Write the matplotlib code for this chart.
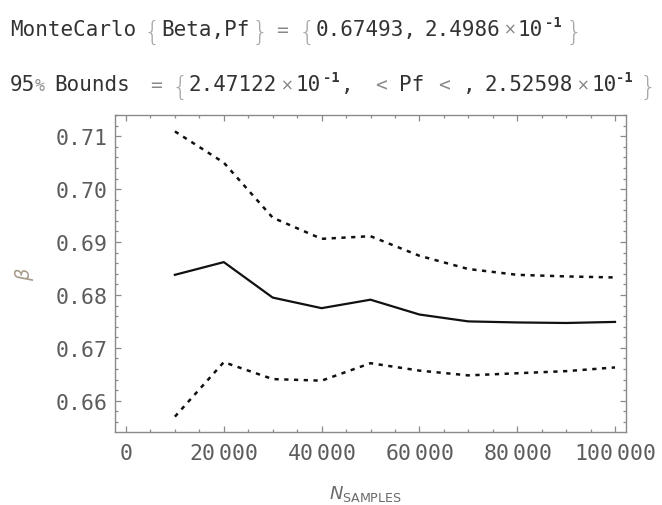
#!/usr/bin/env python3
'''
Monte Carlo convergence of beta with 95% bounds
'''
import numpy as np
import matplotlib
matplotlib.use('Agg')
import matplotlib.pyplot as plt
from matplotlib.ticker import MultipleLocator, FuncFormatter

n_samples = [10000, 20000, 30000, 40000, 50000, 60000, 70000, 80000, 90000, 100000]
beta_mean = [0.6838, 0.6862, 0.6795, 0.6775, 0.6791, 0.6763, 0.6750, 0.6748, 0.6747, 0.6749]
beta_upper = [0.7109, 0.7050, 0.6946, 0.6906, 0.6911, 0.6874, 0.6849, 0.6838, 0.6835, 0.6833]
beta_lower = [0.6570, 0.6673, 0.6641, 0.6638, 0.6671, 0.6657, 0.6648, 0.6652, 0.6656, 0.6663]

# header pieces: (text, kind, left x in pixels)
line1 = [('MonteCarlo', 'txt', 10), ('{', 'brace', 144), ('Beta,Pf', 'txt', 161),
         ('}', 'brace', 252), ('=', 'op', 276), ('{', 'brace', 299),
         ('0.67493,', 'txt', 316), ('2.4986', 'txt', 424), ('\u00d7', 'times', 504),
         ('10', 'txt', 517), ('-1', 'sup', 545), ('}', 'brace', 566)]
line2 = [('95', 'txt', 10), ('%', 'pct', 35), ('Bounds', 'txt', 54), ('=', 'op', 150),
         ('{', 'brace', 172), ('2.47122', 'txt', 189), ('\u00d7', 'times', 281),
         ('10', 'txt', 296), ('-1', 'sup', 323), (',', 'txt', 341),
         ('<', 'op', 375), ('Pf', 'txt', 399), ('<', 'op', 438), (',', 'txt', 463),
         ('2.52598', 'txt', 484), ('\u00d7', 'times', 577), ('10', 'txt', 591),
         ('-1', 'sup', 616), ('}', 'brace', 640)]

text_col = '#333333'
axis_col = '#8a8a8a'
label_col = '#5c5c5c'
mono = 'DejaVu Sans Mono'

fig = plt.figure(figsize=(6.62, 5.06), dpi=100)
ax = fig.add_axes([115/662, 1 - 433/506, 511/662, 317/506])

ax.plot(n_samples, beta_upper, color='#111111', lw=1.8, linestyle=(0, (1.7, 2.2)))
ax.plot(n_samples, beta_mean, color='#111111', lw=1.6)
ax.plot(n_samples, beta_lower, color='#111111', lw=1.8, linestyle=(0, (1.7, 2.2)))

ax.set_xlim(-2250, 102250)
ax.set_ylim(0.6541, 0.7140)
ax.xaxis.set_major_locator(MultipleLocator(20000))
ax.xaxis.set_minor_locator(MultipleLocator(5000))
ax.yaxis.set_major_locator(MultipleLocator(0.01))
ax.yaxis.set_minor_locator(MultipleLocator(0.002))

def fmt_x(v, pos):
    s = '%d' % round(v)
    if len(s) > 3:
        return r'$\mathtt{%s}\,\mathtt{%s}$' % (s[:-3], s[-3:])
    return r'$\mathtt{%s}$' % s

ax.xaxis.set_major_formatter(FuncFormatter(fmt_x))
ax.yaxis.set_major_formatter(FuncFormatter(lambda v, pos: '%.2f' % v))

ax.tick_params(which='both', direction='in', top=True, right=True, color=axis_col,
               labelcolor=label_col, labelsize=15.5)
ax.tick_params(which='major', length=4.5, width=0.9)
ax.tick_params(which='minor', length=2.5, width=0.9)
ax.tick_params(axis='x', which='major', pad=8)
ax.tick_params(axis='y', which='major', pad=5)
for lab in ax.get_yticklabels():
    lab.set_family(mono)
for sp in ax.spines.values():
    sp.set_color(axis_col)
    sp.set_linewidth(1.0)

ax.set_ylabel(r'$\beta$', color='#a89c8c', fontsize=14)
ax.yaxis.set_label_coords(-0.155, 0.5)
ax.set_xlabel(r'$N_{\mathrm{SAMPLES}}$', color='#6a6a6a', fontsize=13)
ax.xaxis.set_label_coords(0.49, -0.16)

def draw_line(pieces, base):
    for txt, kind, x in pieces:
        kw = dict(family=mono, color=text_col, fontsize=15, va='baseline', ha='left')
        y = base
        if kind == 'brace':
            kw.update(color='#a8a8a8', fontsize=19, family='DejaVu Sans', fontweight='light')
            y = base + 4
        elif kind == 'times':
            kw.update(color='#808080', fontsize=11, family='DejaVu Sans')
            y = base - 1
        elif kind == 'sup':
            kw.update(fontsize=10, fontweight='bold')
            y = base - 9
        elif kind == 'pct':
            kw.update(color='#909090', fontsize=12)
        elif kind == 'op':
            kw.update(color='#888888', fontsize=14)
        fig.text(x / 662, 1 - y / 506, txt, **kw)

draw_line(line1, 36)
draw_line(line2, 91)

fig.savefig('out.png', dpi=100)
